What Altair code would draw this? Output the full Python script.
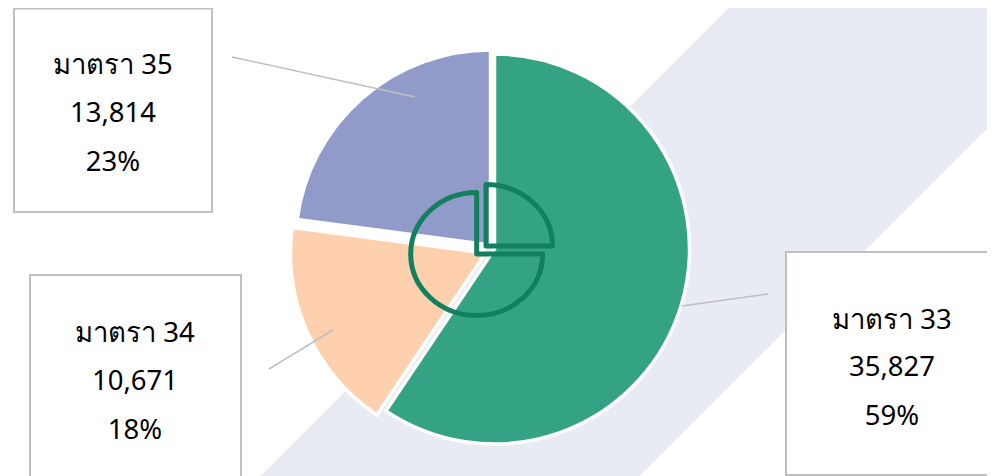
import altair as alt
import pandas as pd

# ---- chart values
categories = ["มาตรา 33", "มาตรา 34", "มาตรา 35"]
values = [35827, 10671, 13814]
percents = ["59%", "18%", "23%"]
colors = ["#33a383", "#fed0ad", "#919bca"]

OFF = 8  # page margin: canvas origin in reference pixels
W, H = 979, 468
total = sum(values)

df = pd.DataFrame({"cat": categories, "value": values, "pct": percents})

theta_scale = alt.Scale(domain=[0, total], range=[0, 6.283185])

# slice centres (reference pixels) and radius
centres = {
    "มาตรา 33": (494.5, 249.0),
    "มาตรา 34": (485.5, 253.0),
    "มาตรา 35": (490.5, 245.0),
}
R = 195

# label boxes: x0, x1, y0, y1, centre x, line y's
boxes = {
    "มาตรา 35": (14, 212, 8.5, 212, 113, (66, 114, 163)),
    "มาตรา 34": (30, 241, 275, 490, 135, (334, 382, 431)),
    "มาตรา 33": (786, 1010, 252, 475, 892, (321, 368, 417)),
}
leaders = [
    (232, 57, 415, 97),
    (269, 369, 333, 330),
    (682, 306, 768, 294),
]


def px(v):
    return alt.value(v - OFF)


layers = []

# diagonal background band
layers.append(
    alt.Chart(df.head(1))
    .mark_rule(color="#e8eaf4", strokeWidth=268, strokeCap="butt")
    .encode(x=px(1126), y=px(-200), x2=px(100), y2=px(826))
)

# pie slices
cum = 0
for cat, val, col in zip(categories, values, colors):
    cx, cy = centres[cat]
    d = pd.DataFrame({"cat": [cat], "t0": [cum], "t1": [cum + val]})
    cum += val
    layers.append(
        alt.Chart(d)
        .mark_arc(radius=R, stroke="white", strokeWidth=3.5, fill=col, x=cx - OFF, y=cy - OFF)
        .encode(
            theta=alt.Theta("t0:Q", scale=theta_scale, stack=None),
            theta2="t1:Q",
        )
    )

# leader lines
for x0, y0, x1, y1 in leaders:
    layers.append(
        alt.Chart(df.head(1))
        .mark_rule(color="#bfbfbf", strokeWidth=1.5)
        .encode(x=px(x0), y=px(y0), x2=px(x1), y2=px(y1))
    )

# boxes and text
for cat, val, pct in zip(categories, values, percents):
    x0, x1, y0, y1, tx, ys = boxes[cat]
    layers.append(
        alt.Chart(df.head(1))
        .mark_rect(fill="white", stroke="#bfbfbf", strokeWidth=2)
        .encode(x=px(x0), x2=px(x1), y=px(y0), y2=px(y1))
    )
    for line, ty in zip([cat, f"{val:,}", pct], ys):
        layers.append(
            alt.Chart(pd.DataFrame({"t": [line]}))
            .mark_text(font="Noto Sans", fontSize=27.5, color="black", align="center",
                       baseline="middle", x=tx - OFF, y=ty - OFF)
            .encode(text="t:N")
        )

# pie icon in the middle (slightly flattened outlines, so drawn as custom symbols)
icon = [
    (476.7, 254.0, "M0,-61.5 A66,61.5 0 1 0 66,0 L0,0 Z"),
    (486.0, 246.0, "M0,0 L0,-61.5 A66.5,61.5 0 0 1 66.5,0 Z"),
]
for cx, cy, path in icon:
    layers.append(
        alt.Chart(df.head(1))
        .mark_point(shape=path, size=4, filled=False, fill=None, stroke="#12805f", opacity=1,
                    strokeWidth=5, strokeJoin="round", x=cx - OFF, y=cy - OFF)
        .encode(opacity=alt.value(1))
    )

chart = (
    alt.layer(*layers)
    .properties(width=W, height=H, padding=0, autosize=alt.AutoSizeParams(type="none"))
    .configure_view(stroke=None)
)
chart.save("out.html", embed_options={"renderer": "svg", "actions": False})
